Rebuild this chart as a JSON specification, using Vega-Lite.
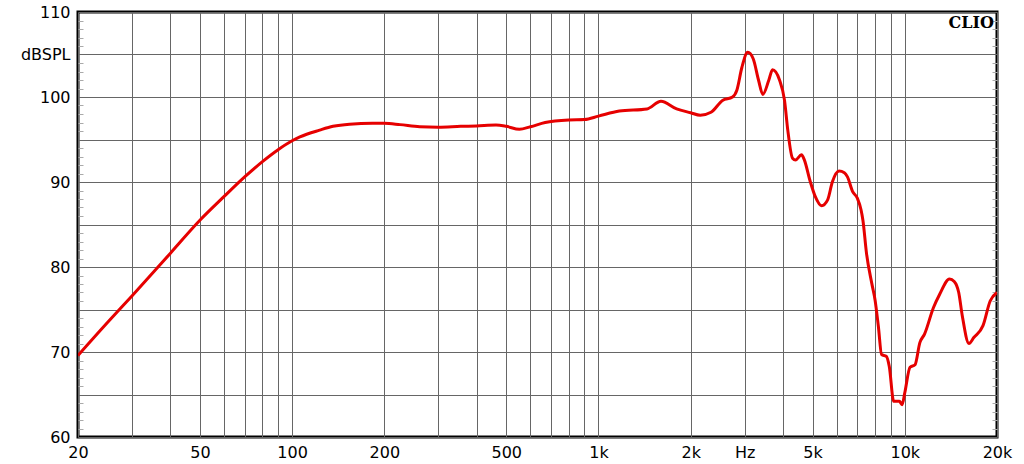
{
  "$schema": "https://vega.github.io/schema/vega-lite/v6.json",
  "width": 919,
  "height": 425,
  "autosize": {"type": "none"},
  "padding": {"left": 78, "top": 12, "right": 27, "bottom": 27},
  "background": "white",
  "config": {
    "view": {"stroke": "black", "strokeWidth": 3},
    "axis": {"labelFont": "DejaVu Sans", "labelFontSize": 16, "labelColor": "black", "title": null}
  },
  "layer": [
    {
      "data": {"values": [
        {"freq": 20, "db": 69.6}, {"freq": 25, "db": 73.5}, {"freq": 30, "db": 76.6}, {"freq": 40, "db": 81.6},
        {"freq": 50, "db": 85.5}, {"freq": 60, "db": 88.3}, {"freq": 70, "db": 90.6}, {"freq": 80, "db": 92.4},
        {"freq": 90, "db": 93.8}, {"freq": 100, "db": 94.85}, {"freq": 106, "db": 95.3}, {"freq": 123, "db": 96.1},
        {"freq": 136, "db": 96.55}, {"freq": 154, "db": 96.8}, {"freq": 183, "db": 96.9}, {"freq": 200, "db": 96.9},
        {"freq": 225, "db": 96.75}, {"freq": 261, "db": 96.5}, {"freq": 300, "db": 96.45}, {"freq": 355, "db": 96.55},
        {"freq": 400, "db": 96.6}, {"freq": 463, "db": 96.7}, {"freq": 500, "db": 96.55}, {"freq": 552, "db": 96.2},
        {"freq": 600, "db": 96.5}, {"freq": 670, "db": 97.0}, {"freq": 800, "db": 97.3}, {"freq": 900, "db": 97.35},
        {"freq": 1000, "db": 97.75}, {"freq": 1170, "db": 98.35}, {"freq": 1440, "db": 98.6}, {"freq": 1600, "db": 99.5},
        {"freq": 1800, "db": 98.6}, {"freq": 2000, "db": 98.15}, {"freq": 2150, "db": 97.85}, {"freq": 2330, "db": 98.2},
        {"freq": 2540, "db": 99.6}, {"freq": 2740, "db": 100.0}, {"freq": 2830, "db": 100.8}, {"freq": 2940, "db": 103.5},
        {"freq": 3070, "db": 105.25}, {"freq": 3200, "db": 104.5}, {"freq": 3330, "db": 102.0}, {"freq": 3440, "db": 100.3},
        {"freq": 3600, "db": 102.0}, {"freq": 3700, "db": 103.2}, {"freq": 3900, "db": 102.0}, {"freq": 4050, "db": 99.6},
        {"freq": 4150, "db": 96.1}, {"freq": 4300, "db": 92.8}, {"freq": 4400, "db": 92.6}, {"freq": 4600, "db": 93.2},
        {"freq": 4700, "db": 92.6}, {"freq": 4900, "db": 90.2}, {"freq": 5100, "db": 88.3}, {"freq": 5350, "db": 87.2},
        {"freq": 5600, "db": 87.9}, {"freq": 5800, "db": 90.0}, {"freq": 6100, "db": 91.3}, {"freq": 6350, "db": 91.1},
        {"freq": 6500, "db": 90.6}, {"freq": 6750, "db": 88.9}, {"freq": 7000, "db": 88.1}, {"freq": 7200, "db": 86.7},
        {"freq": 7300, "db": 85.5}, {"freq": 7500, "db": 81.6}, {"freq": 7800, "db": 78.1}, {"freq": 8000, "db": 76.1},
        {"freq": 8200, "db": 73.0}, {"freq": 8400, "db": 69.7}, {"freq": 8700, "db": 69.5}, {"freq": 8900, "db": 68.3},
        {"freq": 9200, "db": 64.2}, {"freq": 9600, "db": 64.2}, {"freq": 9800, "db": 63.8}, {"freq": 10000, "db": 65.2},
        {"freq": 10400, "db": 68.2}, {"freq": 10800, "db": 68.5}, {"freq": 11200, "db": 71.1}, {"freq": 11600, "db": 72.1},
        {"freq": 12400, "db": 75.2}, {"freq": 13000, "db": 76.8}, {"freq": 14000, "db": 78.6}, {"freq": 14500, "db": 78.3},
        {"freq": 15000, "db": 77.0}, {"freq": 15400, "db": 74.3}, {"freq": 16200, "db": 71.0}, {"freq": 16800, "db": 71.7},
        {"freq": 18000, "db": 73.1}, {"freq": 19000, "db": 76.0}, {"freq": 20000, "db": 77.0}
      ]},
      "mark": {"type": "line", "color": "#e60000", "strokeWidth": 3, "interpolate": "monotone", "clip": true},
      "encoding": {
        "x": {
          "field": "freq", "type": "quantitative",
          "scale": {"type": "log", "domain": [20, 20000], "nice": false},
          "axis": {
            "values": [20, 30, 40, 50, 60, 70, 80, 90, 100, 200, 300, 400, 500, 600, 700, 800, 900, 1000, 2000, 3000, 4000, 5000, 6000, 7000, 8000, 9000, 10000, 20000],
            "grid": true, "gridColor": "#666", "gridWidth": 1,
            "ticks": false, "domain": false, "labelPadding": 7,
            "labelOverlap": false, "labelFlush": false, "labelBound": false,
            "labelExpr": "datum.value == 20 ? '20' : datum.value == 50 ? '50' : datum.value == 100 ? '100' : datum.value == 200 ? '200' : datum.value == 500 ? '500' : datum.value == 1000 ? '1k' : datum.value == 2000 ? '2k' : datum.value == 3000 ? 'Hz' : datum.value == 5000 ? '5k' : datum.value == 10000 ? '10k' : datum.value == 20000 ? '20k' : ''"
          }
        },
        "y": {
          "field": "db", "type": "quantitative",
          "scale": {"domain": [60, 110], "nice": false, "zero": false},
          "axis": {
            "values": [60, 61, 62, 63, 64, 65, 66, 67, 68, 69, 70, 71, 72, 73, 74, 75, 76, 77, 78, 79, 80, 81, 82, 83, 84, 85, 86, 87, 88, 89, 90, 91, 92, 93, 94, 95, 96, 97, 98, 99, 100, 101, 102, 103, 104, 105, 106, 107, 108, 109, 110],
            "grid": true, "gridColor": "#666", "gridWidth": 1,
            "gridOpacity": {"condition": {"test": "datum.value % 5 === 0", "value": 1}, "value": 0},
            "ticks": true, "tickSize": -5, "tickWidth": 1,
            "tickColor": {"condition": {"test": "datum.value % 5 === 0", "value": "transparent"}, "value": "#aaa"},
            "domain": false, "labelPadding": 13, "labelOverlap": false, "labelFlush": false, "labelBound": false,
            "labelExpr": "datum.value === 105 ? 'dBSPL' : (datum.value % 10 === 0 ? datum.label : '')"
          }
        }
      }
    },
    {
      "data": {"values": [{"label": "CLIO"}]},
      "mark": {"type": "text", "font": "DejaVu Serif", "fontWeight": "bold", "fontSize": 16, "color": "black", "align": "right", "baseline": "top", "dx": -3, "dy": 3},
      "encoding": {
        "text": {"field": "label"},
        "x": {"datum": 20000, "type": "quantitative"},
        "y": {
          "datum": 110, "type": "quantitative",
          "axis": {
            "orient": "right",
            "values": [60, 61, 62, 63, 64, 65, 66, 67, 68, 69, 70, 71, 72, 73, 74, 75, 76, 77, 78, 79, 80, 81, 82, 83, 84, 85, 86, 87, 88, 89, 90, 91, 92, 93, 94, 95, 96, 97, 98, 99, 100, 101, 102, 103, 104, 105, 106, 107, 108, 109, 110],
            "grid": false, "labels": false, "domain": false,
            "ticks": true, "tickSize": -5, "tickWidth": 1,
            "tickColor": {"condition": {"test": "datum.value % 5 === 0", "value": "transparent"}, "value": "#aaa"}
          }
        }
      }
    }
  ],
  "resolve": {"axis": {"y": "independent"}}
}
